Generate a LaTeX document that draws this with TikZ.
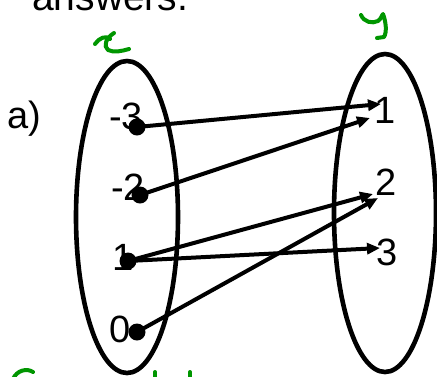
\documentclass[tikz,border=0pt]{standalone}
\usepackage{fontspec}
\setmainfont{Liberation Sans}
\usetikzlibrary{arrows.meta}
\definecolor{pen}{RGB}{0,150,0}
\begin{document}
\begin{tikzpicture}[x=1pt,y=-1pt,
  txt/.style={inner sep=0pt,font=\fontsize{38}{40}\selectfont},
  dot/.style={circle,fill=black,inner sep=0pt,minimum size=17pt},
  arr/.style={line width=4pt,-{Triangle[length=13pt,width=11pt]}},
  setline/.style={line width=4.6pt},
  hand/.style={pen,line width=4pt,line cap=round,line join=round}]
\useasboundingbox (0,0) rectangle (437,376);
\clip (0,0) rectangle (437,376);
\fill[white] (0,0) rectangle (437,376);
% title
\node[txt,anchor=base west,font=\fontsize{39}{41}\selectfont] (ans) at (32,10) {answers.};
\node[txt,anchor=base west] (lbl) at (7,128) {a)};
% sets
\draw[setline] (127,217) ellipse [x radius=51pt, y radius=156pt];
\draw[setline] (385,213) ellipse [x radius=51pt, y radius=159pt];
% labels left
\node[txt,anchor=base] (lm3) at (126,129) {-3};
\node[txt,anchor=base] (lm2) at (128,200) {-2};
\node[txt,anchor=base] (l1) at (123,270) {1};
\node[txt,anchor=base] (l0) at (120,342) {0};
% labels right
\node[txt,anchor=base] (r1) at (385,123) {1};
\node[txt,anchor=base] (r2) at (386,195) {2};
\node[txt,anchor=base] (r3) at (387,265) {3};
% dots
\node[dot] (d1) at (137,127) {};
\node[dot] (d2) at (140,195) {};
\node[dot] (d3) at (128,261) {};
\node[dot] (d4) at (137,332) {};
% arrow tips
\coordinate (t1) at (381,104);
\coordinate (t2) at (370,118);
\coordinate (t3) at (373,194);
\coordinate (t4) at (380,248);
\coordinate (t5) at (378,198);
\draw[arr] (d1.center) -- (t1);
\draw[arr] (d2.center) -- (t2);
\draw[arr] (d3.center) -- (t3);
\draw[arr] (d3.center) -- (t4);
\draw[arr] (d4.center) -- (t5);
% handwritten green
\draw[hand] (95,44) .. controls (99,38) and (106,35) .. (110,39);
\draw[hand] (114,33) .. controls (106,38) and (103,46) .. (108,50) .. controls (114,53) and (122,51) .. (129,49);
\draw[hand] (361,15) .. controls (364,22) and (372,24) .. (378,21) .. controls (381,19) and (382,15) .. (383,14)
  .. controls (386,22) and (387,32) .. (384,37) -- (377,38);
\draw[hand] (13,379) .. controls (17,370) and (27,368) .. (33,372);
\draw[hand] (155,372) -- (155,380);
\draw[hand] (190,372) -- (190,380);
\end{tikzpicture}
\end{document}
